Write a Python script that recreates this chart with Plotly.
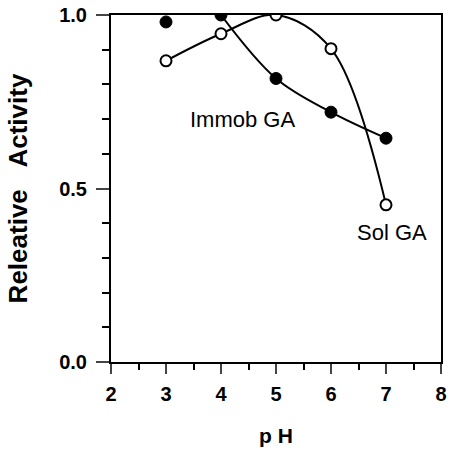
import plotly.graph_objects as go

ph = [3, 4, 5, 6, 7]
immob = [0.98, 1.0, 0.817, 0.72, 0.645]
sol = [0.868, 0.946, 1.0, 0.903, 0.453]
immob_line_ph = [4, 5, 6, 7]
immob_line = [1.0, 0.817, 0.72, 0.645]

FONT = "Liberation Sans, Arial"

fig = go.Figure()
fig.add_trace(go.Scatter(x=immob_line_ph, y=immob_line, mode="lines",
                         line=dict(color="black", width=2, shape="spline", smoothing=1.0),
                         showlegend=False, hoverinfo="skip"))
fig.add_trace(go.Scatter(x=ph, y=sol, mode="lines+markers",
                         line=dict(color="black", width=2, shape="spline", smoothing=1.0),
                         marker=dict(symbol="circle", size=11, color="white",
                                     line=dict(color="black", width=2)),
                         showlegend=False))
fig.add_trace(go.Scatter(x=ph, y=immob, mode="markers",
                         marker=dict(symbol="circle", size=12, color="black",
                                     line=dict(color="black", width=1)),
                         showlegend=False))

fig.add_annotation(x=4.39, y=0.70, xref="x", yref="y", text="Immob GA", showarrow=False,
                   font=dict(family=FONT, size=22, color="black"))
fig.add_annotation(x=7.11, y=0.372, xref="x", yref="y", text="Sol GA", showarrow=False,
                   font=dict(family=FONT, size=22, color="black"))

fig.update_layout(
    width=451, height=452,
    margin=dict(l=111, r=4, t=13, b=90),
    plot_bgcolor="white", paper_bgcolor="white",
    font=dict(family=FONT, color="black"),
)
fig.update_xaxes(range=[2, 8], tickvals=[2, 3, 4, 5, 6, 7, 8], ticks="outside", ticklen=10,
                 tickwidth=2, showline=True, linecolor="black", linewidth=2, mirror=True,
                 showgrid=False, zeroline=False, ticklabelstandoff=3,
                 tickfont=dict(family=FONT, size=20, color="black", weight="bold"),
                 minor=dict(dtick=0.5, ticks="outside", ticklen=6, tickwidth=2, tickcolor="black", showgrid=False),
                 title=dict(text="p\u00a0H", standoff=24,
                            font=dict(family=FONT, size=21, color="black", weight="bold")))
fig.update_yaxes(range=[0, 1.0], tickvals=[0, 0.5, 1.0], ticktext=["0.0", "0.5", "1.0"],
                 ticks="outside", ticklen=13, tickwidth=2, showline=True, linecolor="black",
                 linewidth=2, mirror=True, showgrid=False, zeroline=False, ticklabelstandoff=5,
                 tickfont=dict(family=FONT, size=20, color="black", weight="bold"),
                 minor=dict(dtick=0.1, ticks="outside", ticklen=7, tickwidth=2, tickcolor="black", showgrid=False),
                 title=dict(text="Releative\u00a0\u00a0\u00a0Activity", standoff=24,
                            font=dict(family=FONT, size=26, color="black", weight="bold")))

fig.write_html("out.html")
